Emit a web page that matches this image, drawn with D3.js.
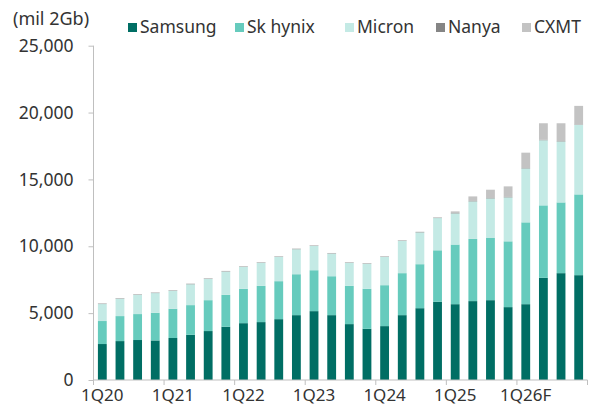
<!DOCTYPE html>
<html>
<head>
<meta charset="utf-8">
<script src="https://cdn.jsdelivr.net/npm/d3@7"></script>
<style>
  html, body { margin: 0; padding: 0; background: #fff; }
  svg { display: block; font-family: "Noto Sans", "Open Sans", sans-serif; }
</style>
</head>
<body>
<svg id="chart" width="592" height="412"></svg>
<script>
const categories = [
  "1Q20","2Q20","3Q20","4Q20",
  "1Q21","2Q21","3Q21","4Q21",
  "1Q22","2Q22","3Q22","4Q22",
  "1Q23","2Q23","3Q23","4Q23",
  "1Q24","2Q24","3Q24","4Q24",
  "1Q25","2Q25","3Q25","4Q25",
  "1Q26F","2Q26F","3Q26F","4Q26F"
];
const xLabels = ["1Q20","1Q21","1Q22","1Q23","1Q24","1Q25","1Q26F"];
const seriesNames = ["Samsung","Sk hynix","Micron","Nanya","CXMT"];
const seriesColors = ["#006e64","#66cbbd","#c4eae5","#858585","#c3c3c3"];

const samsung = [2690,2910,2990,2960,3140,3380,3660,3980,4250,4330,4550,4850,5150,4850,4180,3830,4030,4850,5370,5850,5670,5900,5970,5450,5670,7640,7990,7840];
const skhynix = [1720,1870,1940,2070,2190,2220,2310,2390,2570,2710,2840,3060,3060,2910,2860,2990,3060,3140,3290,3850,4460,4650,4650,4920,6120,5420,5290,6040];
const micron  = [1270,1300,1440,1470,1340,1560,1590,1740,1640,1720,1810,1870,1810,1690,1720,1870,2110,2410,2380,2410,2330,2810,2960,3290,4030,4870,4560,5200];
const nanya   = [30,30,30,30,30,30,30,30,30,30,30,30,30,30,30,30,30,30,30,30,30,30,30,30,30,30,30,30];
const cxmt    = [20,20,20,20,20,20,20,20,20,20,20,20,20,20,20,20,20,20,20,20,120,340,620,790,1150,1240,1330,1390];
const yTicks = [0,5000,10000,15000,20000,25000];
const unitLabel = "(mil 2Gb)";

const seriesData = [samsung, skhynix, micron, nanya, cxmt];
const rows = categories.map((c, i) => {
  const r = { cat: c };
  seriesNames.forEach((s, j) => r[s] = seriesData[j][i]);
  return r;
});
const stacked = d3.stack().keys(seriesNames)(rows);

const svg = d3.select("#chart");
const plotLeft = 93.5, plotRight = 587.5, plotTop = 45.7, plotBottom = 380;

const x = d3.scaleBand().domain(categories).range([plotLeft, plotRight])
  .paddingInner(0.5).paddingOuter(0.25);
const y = d3.scaleLinear().domain([0, 25000]).range([plotBottom, plotTop]);

const textColor = "#333333";
const axisColor = "#bfbfbf";

// bars
svg.append("g").selectAll("g").data(stacked).join("g")
  .attr("fill", (d, i) => seriesColors[i])
  .selectAll("rect").data(d => d).join("rect")
  .attr("x", d => x(d.data.cat))
  .attr("width", x.bandwidth())
  .attr("y", d => y(d[1]))
  .attr("height", d => y(d[0]) - y(d[1]));

// y axis
const yAxis = svg.append("g").attr("transform", `translate(${plotLeft},0)`)
  .call(d3.axisLeft(y).tickValues(yTicks).tickFormat(d3.format(",")).tickSize(5).tickPadding(15));
yAxis.select(".domain").attr("stroke", axisColor).attr("d", `M0,${y(25000)}V${y(0)}`);
yAxis.selectAll(".tick line").attr("stroke", axisColor);
yAxis.selectAll("text").attr("fill", textColor).style("font-size", "17.5px")
  .style("font-family", "'Noto Sans', sans-serif");

// x axis (labels centered on bars)
const xAxis = svg.append("g").attr("transform", `translate(0,${plotBottom})`)
  .call(d3.axisBottom(x).tickValues(xLabels).tickSize(0).tickPadding(9));
xAxis.select(".domain").attr("stroke", axisColor).attr("d", `M${plotLeft},0H${plotRight}`);
xAxis.selectAll("text").attr("fill", textColor).style("font-size", "17px")
  .style("font-family", "'Noto Sans', sans-serif");

// x tick marks at year boundaries
const half = x.step() * x.paddingInner() / 2;
const boundaries = xLabels.map(l => x(l) - half).concat([plotRight]);
svg.append("g").selectAll("line").data(boundaries).join("line")
  .attr("x1", d => d).attr("x2", d => d)
  .attr("y1", plotBottom).attr("y2", plotBottom + 5)
  .attr("stroke", axisColor);

// unit label
svg.append("text").attr("x", 13).attr("y", 25)
  .attr("fill", textColor).style("font-size", "18px")
  .text(unitLabel);

// legend
const legendX = [128, 235, 345, 436, 522];
const lg = svg.append("g").selectAll("g").data(seriesNames).join("g")
  .attr("transform", (d, i) => `translate(${legendX[i]},0)`);
lg.append("rect").attr("x", 0).attr("y", 23).attr("width", 9).attr("height", 9)
  .attr("fill", (d, i) => seriesColors[i]);
lg.append("text").attr("x", 12).attr("y", 33)
  .attr("fill", textColor).style("font-size", "17.5px")
  .text(d => d);
</script>
</body>
</html>
